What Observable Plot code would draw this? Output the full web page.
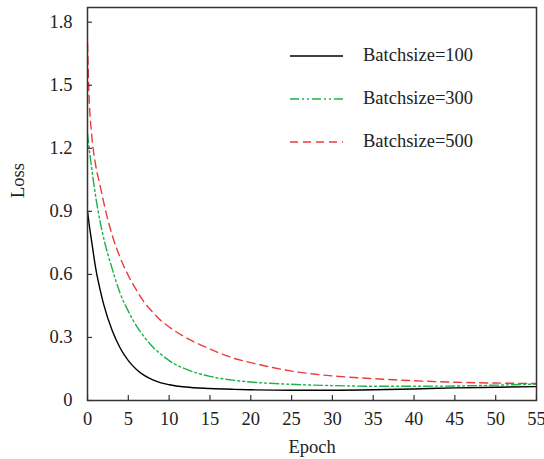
<!DOCTYPE html>
<html>
<head>
<meta charset="utf-8">
<script src="https://cdn.jsdelivr.net/npm/d3@7"></script>
<script src="https://cdn.jsdelivr.net/npm/@observablehq/plot@0.6"></script>
<style>
  body { margin: 0; background: #fff; }
  #wrap { position: relative; width: 544px; height: 459px; font-family: "Liberation Serif", "Times New Roman", serif; }
  #legend { position: absolute; left: 290px; top: 34px; }
  .row { display: flex; align-items: center; height: 43px; }
  .row svg { width: 53px; height: 10px; margin-right: 20px; }
  .row span { font-size: 18.5px; color: #222; }
</style>
</head>
<body>
<div id="wrap"></div>
<script>
const epochs = [0, 0.2, 0.5, 1, 1.5, 2, 3, 4, 5, 6, 7, 8, 9, 10, 12, 15, 18, 20, 25, 30, 35, 40, 45, 50, 55];
const loss100 = [0.90, 0.84, 0.76, 0.63, 0.535, 0.455, 0.335, 0.25, 0.19, 0.148, 0.118, 0.098, 0.084, 0.075, 0.064, 0.057, 0.053, 0.051, 0.049, 0.049, 0.051, 0.055, 0.060, 0.063, 0.066];
const loss300 = [1.27, 1.20, 1.11, 0.97, 0.86, 0.77, 0.63, 0.51, 0.425, 0.355, 0.30, 0.255, 0.22, 0.19, 0.15, 0.115, 0.096, 0.088, 0.077, 0.071, 0.068, 0.068, 0.069, 0.073, 0.078];
const loss500 = [1.70, 1.44, 1.27, 1.12, 1.03, 0.94, 0.79, 0.68, 0.595, 0.525, 0.465, 0.42, 0.38, 0.35, 0.30, 0.245, 0.20, 0.18, 0.14, 0.117, 0.104, 0.094, 0.087, 0.083, 0.081];
const seriesNames = ["Batchsize=100", "Batchsize=300", "Batchsize=500"];
const xTicks = [0, 5, 10, 15, 20, 25, 30, 35, 40, 45, 50, 55];
const yTicks = [0, 0.3, 0.6, 0.9, 1.2, 1.5, 1.8];

const colors = ["#000000", "#1fb04a", "#f03a3a"];
const dashes = [null, "9,3,2,3,2,3", "8,5"];
const seriesValues = [loss100, loss300, loss500];

const marks = [];
seriesValues.forEach((vals, i) => {
  const data = epochs.map((e, j) => ({epoch: e, loss: vals[j]}));
  marks.push(Plot.line(data, {x: "epoch", y: "loss", stroke: colors[i], strokeWidth: 1.4, strokeDasharray: dashes[i], curve: "monotone-x"}));
});

const chart = Plot.plot({
  width: 544,
  height: 459,
  marginLeft: 87,
  marginRight: 8,
  marginTop: 7,
  marginBottom: 59,
  style: {fontFamily: "'Liberation Serif', 'Times New Roman', serif", fontSize: "18.5px", color: "#222", background: "#fff"},
  x: {domain: [0, 55]},
  y: {domain: [0, 1.87]},
  marks: [
    ...marks,
    Plot.axisX(xTicks, {tickSize: -5, tickPadding: 16, stroke: "#333", strokeWidth: 1.2, fontSize: 18.5, label: null}),
    Plot.axisY(yTicks, {tickSize: -5, tickPadding: 20, stroke: "#333", strokeWidth: 1.2, fontSize: 18.5, label: null, tickFormat: d => String(d)}),
    Plot.frame({stroke: "#333", strokeWidth: 1.5}),
    Plot.text(["Epoch"], {frameAnchor: "bottom", dy: 52, fontSize: 18.5, fill: "#222"}),
    Plot.text(["Loss"], {frameAnchor: "left", dx: -69, dy: -6, rotate: -90, fontSize: 18.5, fill: "#222"})
  ]
});

const wrap = document.getElementById("wrap");
wrap.appendChild(chart);

const legend = document.createElement("div");
legend.id = "legend";
seriesNames.forEach((name, i) => {
  const row = document.createElement("div");
  row.className = "row";
  row.innerHTML = `<svg viewBox="0 0 53 10"><line x1="0" y1="5" x2="53" y2="5" stroke="${colors[i]}" stroke-width="1.4" ${dashes[i] ? `stroke-dasharray="${dashes[i]}"` : ""}/></svg><span>${name}</span>`;
  legend.appendChild(row);
});
wrap.appendChild(legend);
</script>
</body>
</html>
